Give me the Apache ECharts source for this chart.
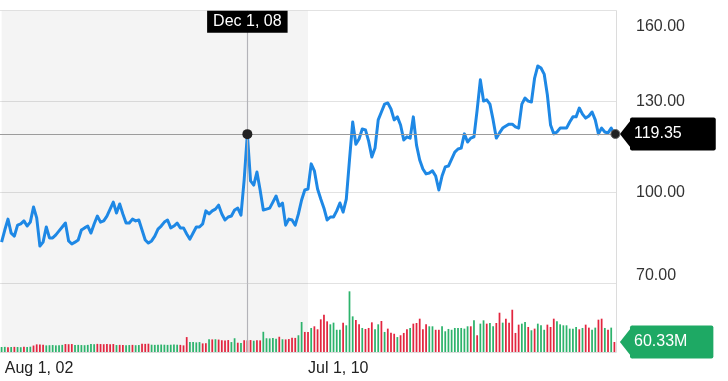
<!DOCTYPE html>
<html><head><meta charset="utf-8">
<script src="https://cdn.jsdelivr.net/npm/echarts@6/dist/echarts.min.js"></script>
<style>html,body{margin:0;padding:0;background:#fff}#c{width:728px;height:381px}</style>
</head><body><div id="c"></div>
<script>
const monthNames = ['Jan','Feb','Mar','Apr','May','Jun','Jul','Aug','Sep','Oct','Nov','Dec'];
const startYear = 2002, startMonth = 6, monthCount = 193;
const categories = [];
for (let i = 0; i < monthCount; i++) {
  const m = (startMonth + i) % 12;
  const y = startYear + Math.floor((startMonth + i) / 12);
  categories.push(monthNames[m] + ' 1, ' + String(y % 100).padStart(2, '0'));
}
const price = [
 83.7, 87.7, 91.3, 86.7, 85.7, 89.3, 89.7, 90.7, 89.0, 90.3,
 95.3, 91.7, 82.4, 83.7, 88.7, 85.1, 85.1, 86.1, 87.4, 88.7,
 90.0, 84.1, 83.1, 83.7, 84.4, 87.7, 88.4, 89.0, 86.7, 89.7,
 92.3, 90.3, 90.7, 92.3, 94.6, 96.9, 93.3, 96.3, 93.0, 90.0,
 90.0, 91.3, 90.7, 91.0, 87.7, 84.4, 83.4, 84.1, 85.7, 88.0,
 89.0, 90.3, 91.0, 88.4, 89.0, 90.0, 88.4, 88.4, 86.4, 84.7,
 86.7, 88.7, 88.7, 89.7, 94.0, 93.0, 94.0, 94.6, 95.9, 93.0,
 91.0, 92.0, 92.3, 94.3, 94.9, 92.6, 104.2, 119.3, 103.9, 102.5,
 106.8, 100.9, 94.3, 94.6, 94.9, 96.9, 98.9, 95.6, 96.6, 89.3,
 91.3, 91.0, 89.3, 93.0, 97.6, 100.9, 101.2, 109.5, 107.2, 101.2,
 97.9, 94.9, 91.0, 92.0, 92.0, 94.0, 96.6, 93.6, 97.9, 110.8,
 123.3, 116.0, 117.7, 121.0, 120.7, 117.0, 111.8, 114.7, 124.0, 126.6,
 129.2, 129.6, 127.6, 124.0, 125.0, 122.3, 117.4, 118.4, 118.0, 125.0,
 115.7, 110.8, 107.8, 106.2, 106.5, 107.2, 105.5, 100.9, 105.5, 108.5,
 108.8, 111.1, 113.4, 114.4, 114.7, 119.4, 116.7, 118.0, 118.4, 127.3,
 137.2, 130.2, 130.6, 129.2, 124.0, 118.0, 119.7, 121.3, 122.0, 122.6,
 122.6, 121.7, 121.3, 129.2, 131.2, 130.2, 129.9, 137.8, 141.8, 141.1,
 139.1, 132.2, 122.3, 119.4, 120.0, 121.3, 121.3, 121.3, 123.3, 125.0,
 125.0, 127.9, 125.9, 124.6, 125.3, 126.6, 124.0, 119.4, 121.3, 120.0,
 119.7, 121.3, 119.35
];
const volume = [
 30, 31, 29, 30, 31, 30, 29, 31, 30, 32,
 39, 46, 45, 44, 40, 41, 42, 40, 41, 43,
 48, 47, 48, 42, 43, 42, 41, 43, 48, 47,
 49, 48, 47, 48, 46, 48, 42, 43, 42, 41,
 42, 43, 41, 42, 50, 49, 50, 44, 43, 44,
 45, 44, 43, 44, 45, 44, 43, 40, 90, 60,
 61, 58, 60, 52, 53, 77, 76, 77, 75, 71,
 70, 72, 60, 83, 56, 55, 71, 70, 72, 68,
 71, 70, 122, 83, 82, 84, 80, 92, 77, 76,
 78, 86, 85, 101, 181, 121,
 121, 145, 155, 137, 197, 225, 185, 167, 177, 134,
 134, 177, 161, 366, 215, 193, 167, 145, 139, 145,
 179, 137, 167, 187, 121, 141, 116, 110, 90, 101,
 115, 137, 145, 171, 175, 201, 137, 167, 155, 155,
 134, 134, 155, 125, 139, 134, 145, 145, 145, 141,
 155, 155, 191, 101, 171, 191, 171, 175, 155, 175,
 237, 177, 201, 177, 255, 115, 165, 171, 181, 151,
 131, 141, 171, 161, 134, 165, 151, 201, 185, 167,
 161, 161, 141, 141, 151, 137, 145, 165, 147, 134,
 147, 195, 201, 145, 134, 147, 60.33
];
const volumeUp = [
 1,1,0,1,0,1,1,0,1,1,
 0,0,0,0,1,1,1,1,1,1,
 0,0,0,1,1,1,1,1,1,1,
 0,0,0,0,0,0,1,0,0,1,
 1,0,1,1,0,0,0,1,1,1,
 1,1,1,1,1,1,0,0,0,1,
 1,1,1,0,0,1,0,1,0,0,
 0,0,1,1,0,1,0,0,0,1,
 0,0,1,1,1,1,1,0,1,0,
 0,0,0,1,1,0,
 0,1,0,0,0,0,0,1,1,1,
 1,0,1,1,1,0,0,1,0,0,
 0,1,1,0,1,0,0,0,1,0,
 0,0,1,0,0,0,0,0,1,1,
 0,0,1,1,1,1,1,1,1,1,
 1,0,1,0,1,1,0,1,1,0,
 0,1,0,0,0,0,0,1,1,0,
 1,0,1,1,1,0,0,0,1,1,
 1,1,1,1,1,0,1,0,0,1,
 1,0,0,1,0,1,0
];
const priceTicks = [70, 100, 130, 160];
const volumeMax = 412;
const xTickLabels = ['Aug 1, 02', 'Jul 1, 10'];
const crosshairDate = 'Dec 1, 08';
const shadeEnd = 'Jul 1, 10';
const lastPrice = 119.35;
const lastVolume = 60.33;

const FONT = "'Liberation Sans', Arial, Helvetica, sans-serif";
const GREEN = '#2db36c', RED = '#e2263f', TAG_GREEN = '#1ea964', BLUE = '#1e88e5';
const SHADE = 'rgba(0,0,0,0.045)';
const lastCat = categories[categories.length - 1];
const crossIdx = categories.indexOf(crosshairDate);
const pMax = priceTicks[priceTicks.length - 1];

const chart = echarts.init(document.getElementById('c'), null, {renderer: 'canvas'});
chart.setOption({
  animation: false,
  textStyle: {fontFamily: FONT},
  grid: [
    {left: 0, width: 616, top: 10.7, height: 273},
    {left: 0, width: 616, top: 283.7, height: 68.3}
  ],
  xAxis: [
    {type: 'category', data: categories, gridIndex: 0, boundaryGap: true,
     axisLine: {show: false}, axisTick: {show: false}, axisLabel: {show: false}, splitLine: {show: false}},
    {type: 'category', data: categories, gridIndex: 1, boundaryGap: true,
     axisLine: {show: true, lineStyle: {color: '#dcdcdc', width: 1}}, axisTick: {show: false},
     splitLine: {show: false},
     axisLabel: {show: true, interval: (i, v) => xTickLabels.indexOf(v) >= 0, align: 'left',
       margin: 9, fontSize: 16, color: '#222', fontFamily: FONT}}
  ],
  yAxis: [
    {type: 'value', gridIndex: 0, position: 'right', min: priceTicks[0], max: pMax, interval: 30,
     axisLine: {show: true, lineStyle: {color: '#dcdcdc'}}, axisTick: {show: false},
     splitLine: {show: true, lineStyle: {color: '#e2e2e2', width: 1}},
     axisLabel: {margin: 20, fontSize: 16, color: '#333', fontFamily: FONT,
       formatter: v => v === pMax ? '{t|' + v.toFixed(2) + '}' : v.toFixed(2),
       rich: {t: {fontSize: 16, color: '#333', fontFamily: FONT, padding: [8, 0, 0, 0]}},
       verticalAlignMaxLabel: 'top', verticalAlignMinLabel: 'bottom'}},
    {type: 'value', gridIndex: 1, position: 'right', min: 0, max: volumeMax,
     axisLine: {show: true, lineStyle: {color: '#dcdcdc'}}, axisTick: {show: false},
     splitLine: {show: false}, axisLabel: {show: false}}
  ],
  series: [
    {
      name: 'price', type: 'line', xAxisIndex: 0, yAxisIndex: 0, data: price,
      symbol: 'none', z: 3,
      lineStyle: {color: BLUE, width: 3, join: 'round'},
      markArea: {silent: true, itemStyle: {color: SHADE},
        data: [[{coord: [categories[0], pMax]}, {coord: [shadeEnd, priceTicks[0]]}]]},
      markLine: {silent: true, symbol: ['none', 'none'], animation: false,
        data: [
          {yAxis: lastPrice, lineStyle: {color: '#9c9c9c', width: 1.2, type: 'solid'},
           label: {show: true, position: 'end', distance: 14, formatter: lastPrice.toFixed(2),
             backgroundColor: '#000', color: '#fff', fontSize: 16, fontFamily: FONT,
             lineHeight: 17, padding: [8, 34, 8, 4], borderRadius: 2}},
          {xAxis: crosshairDate, lineStyle: {color: '#b3b3b8', width: 1.2, type: 'solid'},
           label: {show: false}}
        ]},
      markPoint: {silent: true, animation: false,
        data: [
          {coord: [lastCat, lastPrice], symbol: 'triangle', symbolSize: [33, 13], symbolRotate: 90,
           symbolOffset: [12, 0], itemStyle: {color: '#000'}, label: {show: false}},
          {coord: [crosshairDate, price[crossIdx]], symbol: 'circle', symbolSize: 10,
           itemStyle: {color: '#222'}, label: {show: false}},
          {coord: [lastCat, lastPrice], symbol: 'circle', symbolSize: 9, symbolOffset: [1, 0],
           itemStyle: {color: '#222', borderColor: '#666', borderWidth: 1}, label: {show: false}},
          {coord: [crosshairDate, pMax], symbol: 'rect', symbolSize: 0,
           label: {show: true, position: 'bottom', distance: 0, formatter: crosshairDate,
             backgroundColor: '#000', color: '#fff', fontSize: 16, fontFamily: FONT,
             lineHeight: 16, padding: [3, 6, 3, 6]}}
        ]}
    },
    {
      name: 'volumeShade', type: 'line', xAxisIndex: 1, yAxisIndex: 1, data: volume,
      symbol: 'none', lineStyle: {opacity: 0}, z: 1, silent: true,
      markArea: {silent: true, itemStyle: {color: SHADE},
        data: [[{coord: [categories[0], volumeMax]}, {coord: [shadeEnd, 0]}]]}
    },
    {
      name: 'volume', type: 'bar', xAxisIndex: 1, yAxisIndex: 1, z: 2,
      data: volume.map((v, i) => ({value: v, itemStyle: {color: volumeUp[i] ? GREEN : RED}})),
      barWidth: '55%',
      markLine: {silent: true, symbol: ['none', 'none'], animation: false,
        data: [
          {xAxis: crosshairDate, lineStyle: {color: '#b3b3b8', width: 1.2, type: 'solid'}, label: {show: false}},
          {yAxis: lastVolume, lineStyle: {color: 'rgba(0,0,0,0)', width: 1},
           label: {show: true, position: 'end', distance: 14, formatter: lastVolume.toFixed(2) + 'M',
             backgroundColor: TAG_GREEN, color: '#fff', fontSize: 16, fontFamily: FONT,
             lineHeight: 17, padding: [8, 26, 8, 4], borderRadius: 2}}
        ]},
      markPoint: {silent: true, animation: false,
        data: [
          {coord: [lastCat, lastVolume], symbol: 'triangle', symbolSize: [33, 13], symbolRotate: 90,
           symbolOffset: [12, 0], itemStyle: {color: TAG_GREEN}, label: {show: false}}
        ]}
    }
  ]
});
</script>
</body></html>
